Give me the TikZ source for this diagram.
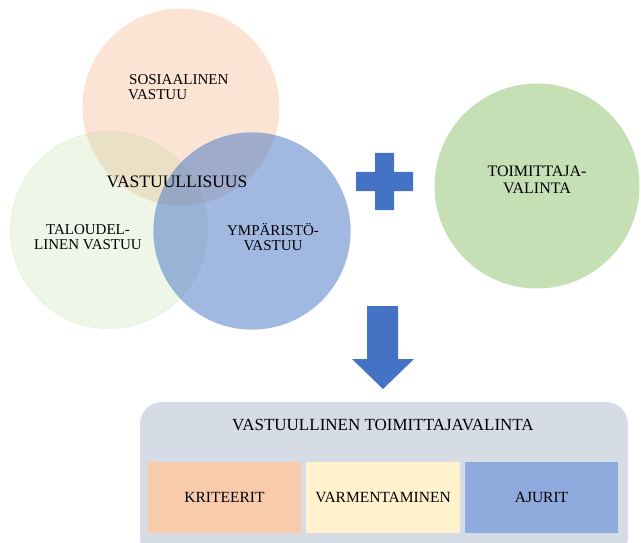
\documentclass[tikz,border=0pt]{standalone}
\usepackage{fontspec}
\setmainfont{Liberation Serif}
\definecolor{peach}{HTML}{F4B183}
\definecolor{leaf}{HTML}{A9D18E}
\definecolor{sea}{HTML}{4472C4}
\definecolor{mint}{HTML}{C5E0B4}
\definecolor{slate}{HTML}{D6DCE5}
\definecolor{apricot}{HTML}{F8CBAD}
\definecolor{cream}{HTML}{FFF2CC}
\definecolor{sky}{HTML}{8FAADC}

\begin{document}
\begin{tikzpicture}[x=1pt,y=-1pt]
  \tikzstyle{ring}=[circle, minimum size=197pt, inner sep=0pt]
  \tikzstyle{lbl}=[font=\fontsize{15}{15.5}\selectfont, align=center, inner sep=0pt]
  \tikzstyle{cell}=[minimum height=71pt, inner sep=0pt, font=\fontsize{15.5}{17}\selectfont]
  \useasboundingbox (0,0) rectangle (641,543);
  % venn
  \node[ring, fill=peach, fill opacity=0.35] (sos) at (181,107) {};
  \node[ring, fill=leaf, fill opacity=0.2, draw=leaf, draw opacity=0.35] (tal) at (109,230) {};
  \node[ring, fill=sea, fill opacity=0.5, draw=sea, draw opacity=0.2] (ymp) at (252,231) {};
  \node[lbl, align=left, anchor=west] (sostext) at (128,87) {\hspace{1pt}SOSIAALINEN\\VASTUU};
  \node[lbl] (taltext) at (88,237) {TALOUDEL-\\LINEN VASTUU};
  \node[lbl] (ymptext) at (273,237) {YMPÄRISTÖ-\\VASTUU};
  \node[lbl, font=\fontsize{17.5}{19}\selectfont] (vast) at (177,182) {VASTUULLISUUS};
  % plus
  \fill[sea] (375,153) -- (394,153) -- (394,172) -- (413,172) -- (413,191) -- (394,191)
    -- (394,210) -- (375,210) -- (375,191) -- (356,191) -- (356,172) -- (375,172) -- cycle;
  \node[ring, fill=mint, minimum size=205pt] (toim) at (537,186) {};
  \node[lbl, font=\fontsize{16}{17}\selectfont] (toimtext) at (537,180) {TOIMITTAJA-\\VALINTA};
  % arrow
  \fill[sea] (367,306) -- (398,306) -- (398,359) -- (414,359) -- (383,389) -- (352,359)
    -- (367,359) -- cycle;
  % result
  \fill[slate, rounded corners=22pt] (140,402) rectangle (628,560);
  \node[lbl, font=\fontsize{17}{19}\selectfont] (title) at (383,425) {VASTUULLINEN TOIMITTAJAVALINTA};
  \node[cell, fill=apricot, minimum width=153pt] (krit) at (224.5,497.5) {KRITEERIT};
  \node[cell, fill=cream, minimum width=154pt] (varm) at (383,497.5) {VARMENTAMINEN};
  \node[cell, fill=sky, minimum width=153pt] (ajur) at (541.5,497.5) {AJURIT};
\end{tikzpicture}
\end{document}
